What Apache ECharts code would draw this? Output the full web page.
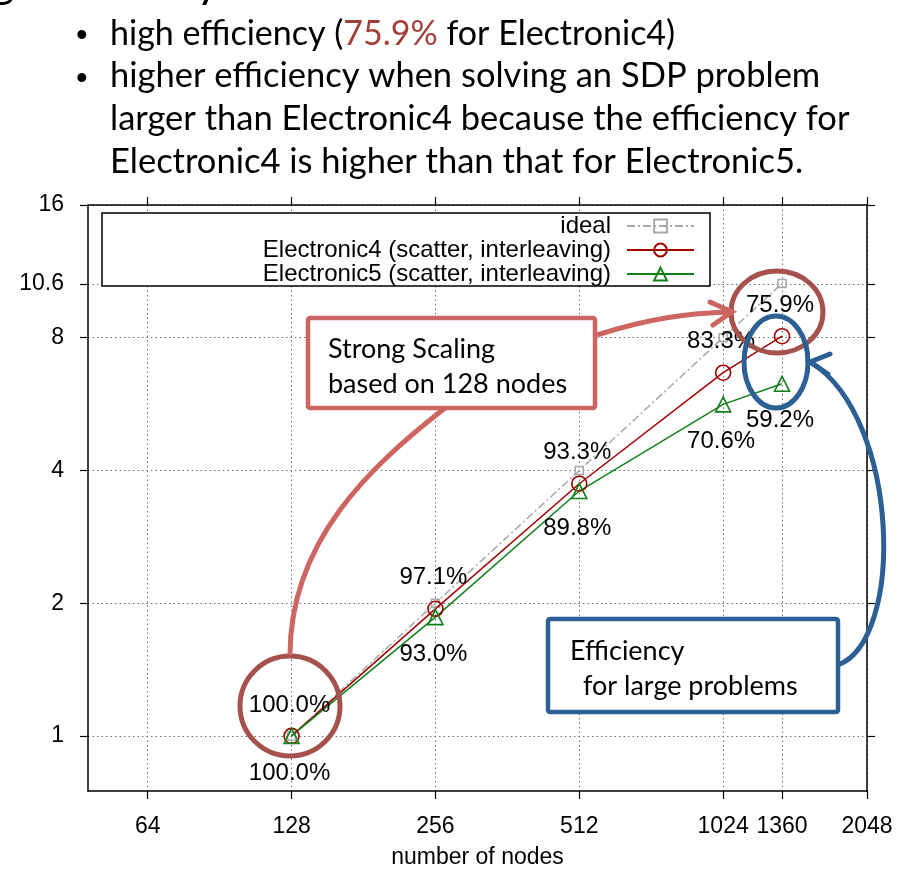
<!DOCTYPE html>
<html>
<head>
<meta charset="utf-8">
<script src="https://cdn.jsdelivr.net/npm/echarts@6/dist/echarts.min.js"></script>
<style>
  html, body { margin: 0; padding: 0; background: #fff; }
  #chart { width: 903px; height: 872px; }
</style>
</head>
<body>
<div id="chart"></div>
<script>
// Strong-scaling speedup of the SDP solver, relative to 128 nodes.
const nodes = [128, 256, 512, 1024, 1360];
const idealSpeedup = [1, 2, 4, 8, 10.625];
const e4Speedup = [1, 1.942, 3.732, 6.664, 8.064];
const e5Speedup = [1, 1.860, 3.592, 5.648, 6.290];
// Parallel efficiency printed beside each point (percent).
const e4Efficiency = [100.0, 97.1, 93.3, 83.3, 75.9];
const e5Efficiency = [100.0, 93.0, 89.8, 70.6, 59.2];

const seriesNames = ['ideal', 'Electronic4 (scatter, interleaving)', 'Electronic5 (scatter, interleaving)'];
const xTicks = [64, 128, 256, 512, 1024, 1360, 2048];
const yTicks = [1, 2, 4, 8, 10.6, 16];
const xAxisTitle = 'number of nodes';

const slideTitle = 'Strong scaling efficiency';
const bulletLines = [
  'higher efficiency when solving an SDP problem',
  'larger than Electronic4 because the efficiency for',
  'Electronic4 is higher than that for Electronic5.'
];

const plotFont = '"Liberation Sans", Arial, Helvetica, sans-serif';
const slideFont = 'Lato, "Open Sans", sans-serif';
const axisFontSize = 23;
const markFontSize = 24;
const gridLine = { show: true, lineStyle: { color: '#6e6e6e', width: 1, type: [1.5, 3] } };
const border = { show: true, onZero: false, lineStyle: { color: '#000', width: 1.5 } };

function pct(v) { return v.toFixed(1) + '%'; }

const chart = echarts.init(document.getElementById('chart'), null, { renderer: 'canvas' });

const xBase = {
  type: 'log', logBase: 2, min: 48, max: 2048,
  axisLine: border,
  axisTick: { show: true, inside: false, length: 8, customValues: xTicks, lineStyle: { color: '#000', width: 1.2 } },
  minorTick: { show: false },
  minorSplitLine: { show: false }
};
const yBase = {
  type: 'log', logBase: 2, min: 0.75, max: 16,
  axisLine: border,
  axisTick: { show: true, inside: false, length: 8, customValues: yTicks, lineStyle: { color: '#000', width: 1.2 } },
  minorTick: { show: false },
  minorSplitLine: { show: false }
};

const option = {
  animation: false,
  backgroundColor: '#fff',
  grid: { left: 88, right: 36, top: 205, bottom: 81, containLabel: false, outerBoundsMode: 'none' },
  xAxis: [
    Object.assign({}, xBase, {
      position: 'bottom',
      name: xAxisTitle, nameLocation: 'middle', nameGap: 55,
      nameTextStyle: { fontFamily: plotFont, fontSize: axisFontSize, color: '#000' },
      axisLabel: { customValues: xTicks, margin: 24, fontFamily: plotFont, fontSize: axisFontSize, color: '#000',
                   formatter: v => String(Math.round(v)) },
      splitLine: gridLine
    }),
    Object.assign({}, xBase, { position: 'top', axisLabel: { show: false }, splitLine: { show: false } })
  ],
  yAxis: [
    Object.assign({}, yBase, {
      position: 'left',
      axisLabel: { customValues: yTicks, margin: 24, fontFamily: plotFont, fontSize: axisFontSize, color: '#000',
                   formatter: v => String(Math.round(v * 10) / 10) },
      splitLine: gridLine
    }),
    Object.assign({}, yBase, { position: 'right', axisLabel: { show: false }, splitLine: { show: false } })
  ],
  legend: {
    data: seriesNames,
    orient: 'vertical', align: 'right',
    right: 208, top: 214,
    itemWidth: 67, itemHeight: 16, itemGap: 0,
    padding: 0,
    selectedMode: false,
    z: 6,
    textStyle: { fontFamily: plotFont, fontSize: markFontSize, color: '#000', lineHeight: 23.5, padding: [0, 11, 0, 0] }
  },
  series: [
    {
      name: seriesNames[0], type: 'line', xAxisIndex: 0, yAxisIndex: 0,
      data: nodes.map((n, i) => [n, idealSpeedup[i]]),
      symbol: 'rect', symbolSize: 8,
      itemStyle: { color: 'rgba(255,255,255,0)', borderColor: '#a8a8a8', borderWidth: 1.5 },
      lineStyle: { color: '#a8a8a8', width: 1.5, type: [8, 3, 2, 3] },
      z: 2
    },
    {
      name: seriesNames[1], type: 'line', xAxisIndex: 0, yAxisIndex: 0,
      data: nodes.map((n, i) => [n, e4Speedup[i]]),
      symbol: 'circle', symbolSize: 15,
      itemStyle: { color: 'rgba(255,255,255,0)', borderColor: '#a30000', borderWidth: 1.6 },
      lineStyle: { color: '#a30000', width: 1.5 },
      label: {
        show: true, position: 'inside', offset: [-2, -31],
        formatter: p => pct(e4Efficiency[p.dataIndex]),
        fontFamily: plotFont, fontSize: markFontSize, color: '#000', textBorderWidth: 0
      },
      z: 3
    },
    {
      name: seriesNames[2], type: 'line', xAxisIndex: 0, yAxisIndex: 0,
      data: nodes.map((n, i) => [n, e5Speedup[i]]),
      symbol: 'triangle', symbolSize: 15,
      itemStyle: { color: 'rgba(255,255,255,0)', borderColor: '#11801a', borderWidth: 1.6 },
      lineStyle: { color: '#11801a', width: 1.5 },
      label: {
        show: true, position: 'inside', offset: [-2, 37],
        formatter: p => pct(e5Efficiency[p.dataIndex]),
        fontFamily: plotFont, fontSize: markFontSize, color: '#000', textBorderWidth: 0
      },
      z: 3
    }
  ],
  graphic: buildGraphics()
};

function buildGraphics() {
  const salmon = '#cd6660';
  const brown = '#a5524d';
  const blue = '#2c5f93';
  const g = [];

  // Slide heading, mostly above the top edge of the page
  g.push({ type: 'text', x: 220, y: -18, z: 50,
    style: { text: slideTitle, font: '46px ' + slideFont, fill: '#000', align: 'right', verticalAlign: 'middle' } });

  // Slide bullets above the plot
  [37, 80].forEach(y => {
    g.push({ type: 'text', x: 76, y: y, z: 50,
      style: { text: '•', font: '33px ' + plotFont, fill: '#000', verticalAlign: 'middle' } });
  });
  g.push({
    type: 'text', x: 110, y: 34, z: 50,
    style: {
      text: '{k|high efficiency (}{r|75.9%}{k| for Electronic4)}',
      verticalAlign: 'middle',
      rich: {
        k: { fontFamily: slideFont, fontSize: 34, fill: '#000', color: '#000' },
        r: { fontFamily: slideFont, fontSize: 34, fill: '#a33f3a', color: '#a33f3a' }
      }
    }
  });
  bulletLines.forEach((t, i) => {
    g.push({ type: 'text', x: 110, y: 76 + i * 43, z: 50,
      style: { text: t, font: '34.5px ' + slideFont, fill: '#000', verticalAlign: 'middle' } });
  });

  // Key box frame (white panel behind the legend entries)
  g.push({ type: 'rect', z: 5, shape: { x: 102, y: 213, width: 608, height: 73 },
    style: { fill: '#fff', stroke: '#000', lineWidth: 1.5 } });

  // Callout: strong scaling
  g.push({ type: 'rect', z: 60, shape: { x: 308, y: 318, width: 287, height: 90, r: 2 },
    style: { fill: '#fff', stroke: salmon, lineWidth: 4.5 } });
  g.push({ type: 'text', x: 328, y: 349, z: 61, style: { text: 'Strong Scaling', font: '27px ' + slideFont, fill: '#000', verticalAlign: 'middle' } });
  g.push({ type: 'text', x: 328, y: 384, z: 61, style: { text: 'based on 128 nodes', font: '27px ' + slideFont, fill: '#000', verticalAlign: 'middle' } });
  g.push({ type: 'bezierCurve', z: 59, shape: { x1: 597, y1: 335, cpx1: 650, cpy1: 318, cpx2: 690, cpy2: 313, x2: 729, y2: 312 },
    style: { stroke: salmon, lineWidth: 5, fill: null } });
  g.push({ type: 'polyline', z: 59, shape: { points: [[710, 302], [732, 312], [713, 325]] },
    style: { stroke: salmon, lineWidth: 5, fill: null, lineJoin: 'miter', lineCap: 'round' } });
  g.push({ type: 'bezierCurve', z: 59, shape: { x1: 445, y1: 408, cpx1: 372, cpx2: 290, cpy1: 465, cpy2: 540, x2: 290, y2: 655 },
    style: { stroke: salmon, lineWidth: 5, fill: null } });

  // Highlight rings
  g.push({ type: 'circle', z: 58, shape: { cx: 290, cy: 706, r: 50 }, style: { stroke: brown, lineWidth: 5, fill: null } });
  g.push({ type: 'ellipse', z: 58, shape: { cx: 777, cy: 312, rx: 46, ry: 41 }, style: { stroke: brown, lineWidth: 5, fill: null } });
  g.push({ type: 'ellipse', z: 58, shape: { cx: 776, cy: 362, rx: 32, ry: 46 }, style: { stroke: blue, lineWidth: 5, fill: null } });

  // Callout: large problems
  g.push({ type: 'rect', z: 60, shape: { x: 548, y: 619, width: 290, height: 93, r: 2 },
    style: { fill: '#fff', stroke: blue, lineWidth: 4.5 } });
  g.push({ type: 'text', x: 570, y: 651, z: 61, style: { text: 'Efficiency', font: '27px ' + slideFont, fill: '#000', verticalAlign: 'middle' } });
  g.push({ type: 'text', x: 583, y: 686, z: 61, style: { text: 'for large problems', font: '27px ' + slideFont, fill: '#000', verticalAlign: 'middle' } });
  g.push({ type: 'bezierCurve', z: 59, shape: { x1: 838, y1: 665, cpx1: 905, cpy1: 640, cpx2: 900, cpy2: 420, x2: 812, y2: 363 },
    style: { stroke: blue, lineWidth: 5, fill: null } });
  g.push({ type: 'polyline', z: 59, shape: { points: [[830, 354], [810, 362], [828, 374]] },
    style: { stroke: blue, lineWidth: 5, fill: null, lineJoin: 'miter', lineCap: 'round' } });

  return g;
}

chart.setOption(option);
</script>
</body>
</html>
